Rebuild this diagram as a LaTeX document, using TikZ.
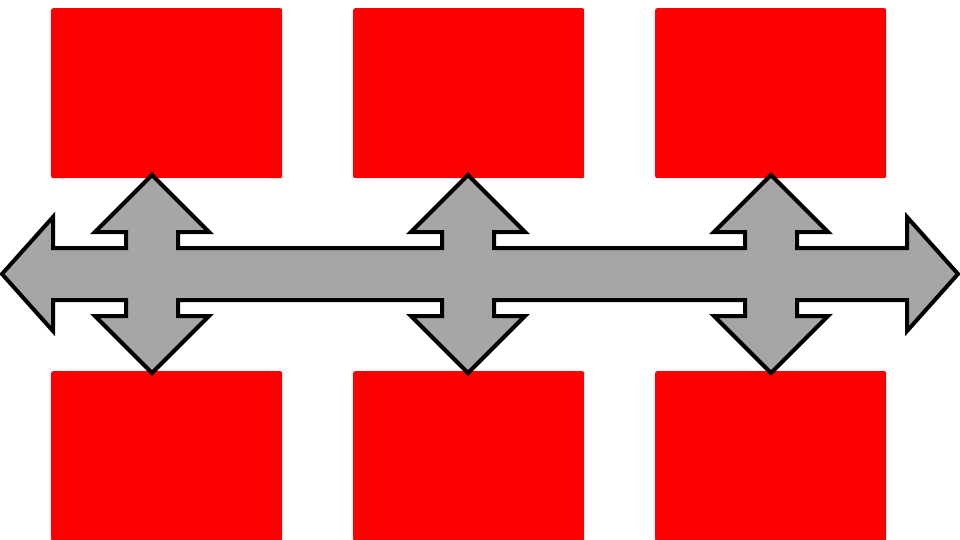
\documentclass[tikz,border=0pt]{standalone}
\definecolor{boxred}{RGB}{255,0,0}
\definecolor{arrowgray}{RGB}{166,166,166}
\begin{document}
\begin{tikzpicture}[x=1pt,y=-1pt,
  redbox/.style={fill=boxred,draw=none,rounded corners=2pt,minimum width=231pt,minimum height=170pt,inner sep=0pt,anchor=north west},
  crossarrow/.style={fill=arrowgray,draw=black,line width=4pt,line join=miter}]
\useasboundingbox (0,0) rectangle (960,540);
\clip (0,0) rectangle (960,540);
\node[redbox] (r1) at (51,8) {};
\node[redbox] (r2) at (353,8) {};
\node[redbox] (r3) at (655,8) {};
\node[redbox] (r4) at (51,371) {};
\node[redbox] (r5) at (353,371) {};
\node[redbox] (r6) at (655,371) {};
\draw[crossarrow]
  (2,274) -- (53,217) -- (53,248)
  -- (126,248) -- (126,232) -- (95,232) -- (152,175) -- (209,232) -- (178,232) -- (178,248)
  -- (442,248) -- (442,232) -- (411,232) -- (468,175) -- (525,232) -- (494,232) -- (494,248)
  -- (745,248) -- (745,232) -- (714,232) -- (771,175) -- (828,232) -- (797,232) -- (797,248)
  -- (907,248) -- (907,217) -- (958,274) -- (907,331) -- (907,300)
  -- (797,300) -- (797,316) -- (828,316) -- (771,373) -- (714,316) -- (745,316) -- (745,300)
  -- (494,300) -- (494,316) -- (525,316) -- (468,373) -- (411,316) -- (442,316) -- (442,300)
  -- (178,300) -- (178,316) -- (209,316) -- (152,373) -- (95,316) -- (126,316) -- (126,300)
  -- (53,300) -- (53,331) -- cycle;
\end{tikzpicture}
\end{document}
